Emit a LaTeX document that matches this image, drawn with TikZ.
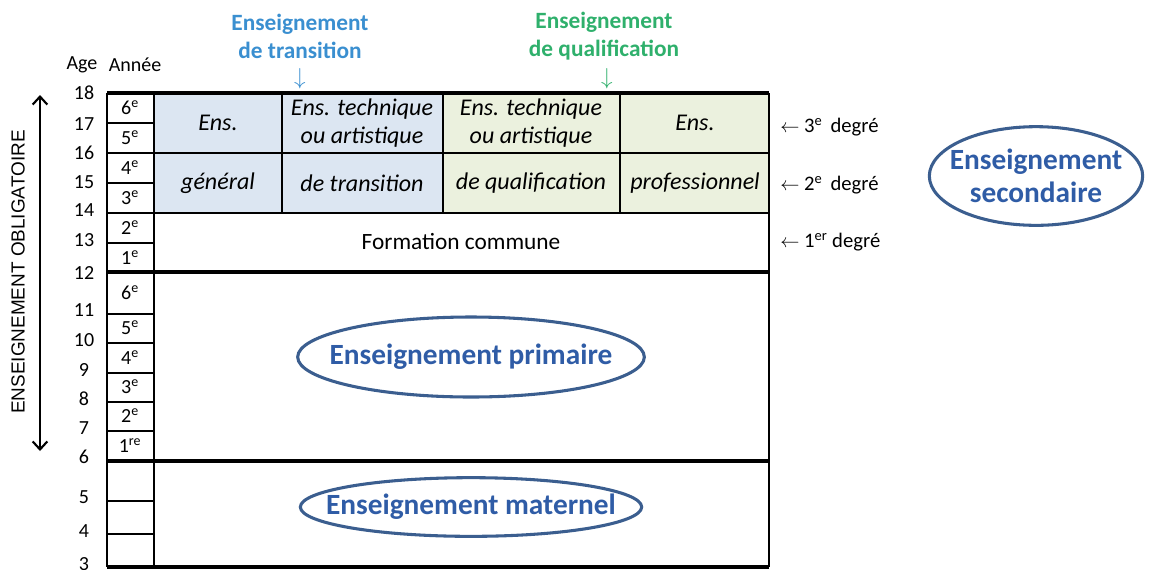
\documentclass[tikz,border=0pt]{standalone}
\usepackage{fontspec}
\setmainfont{Carlito}
\newfontfamily\arialfont{Liberation Sans}
\usetikzlibrary{positioning, shapes.geometric, arrows.meta, calc}

\definecolor{transfill}{HTML}{DCE6F2}
\definecolor{qualfill}{HTML}{EBF1DE}
\definecolor{transblue}{HTML}{3A8FD0}
\definecolor{qualgreen}{HTML}{2FB06C}
\definecolor{ovalline}{HTML}{3B5E8F}
\definecolor{ovaltext}{HTML}{2F5CA6}

\begin{document}
\begin{tikzpicture}[
  x=0.75pt, y=-0.75pt,
  cell/.style={font=\fontsize{18}{21}\selectfont\itshape, align=center, inner sep=0pt},
  plain/.style={font=\fontsize{15}{18}\selectfont, inner sep=0pt},
  year/.style={font=\fontsize{15}{17}\selectfont, inner sep=0pt},
  age/.style={font=\fontsize{15}{17}\selectfont, inner sep=0pt},
  degree/.style={font=\fontsize{15.5}{18}\selectfont, anchor=west, inner sep=0pt},
  heading/.style={font=\fontsize{17.5}{21}\selectfont\bfseries, align=center, inner sep=0pt},
  level/.style={inner sep=0pt, align=center, font=\fontsize{22}{25}\selectfont\bfseries, text=ovaltext},
  oval/.style={draw=ovalline, line width=2.3pt},
  thinline/.style={line width=0.9pt},
  heavyline/.style={line width=2.6pt},
  arrow/.style={line width=1.6pt, <->, >={Straight Barb[length=6pt, width=11pt]}}
]
\useasboundingbox (0,0) rectangle (1163,569);

% Coloured blocks of the upper degrees
\fill[transfill] (154,93) rectangle (443,213);
\fill[qualfill] (443,93) rectangle (769,213);

% Grid
\foreach \y in {123,153,183,243,314,343,373,402,431,501,534}
  \draw[thinline] (107,\y) -- (154,\y);
\draw[thinline] (154,153) -- (769,153);
\draw[thinline] (107,213) -- (769,213);
\foreach \x in {282,443,620}
  \draw[thinline] (\x,93) -- (\x,213);
\foreach \x in {107,154,769}
  \draw[thinline] (\x,93) -- (\x,567);
\foreach \y in {93,272,461,567}
  \draw[heavyline] (107,\y) -- (769,\y);

% Headers
\node[plain] (agehead) at (82,65) {Age};
\node[plain] (yearhead) at (135,65) {Année};
\node[heading, text=transblue] (transhead) at (300,36) {Enseignement\\de transition};
\node[heading, text=qualgreen] (qualhead) at (604,36) {Enseignement\\de qualification};
\node[inner sep=0pt, text=transblue, font=\LARGE] (transdown) at (300,79) {$\downarrow$};
\node[inner sep=0pt, text=qualgreen, font=\LARGE] (qualdown) at (607,79) {$\downarrow$};

% Ages
\foreach \a/\y in {18/93,17/124,16/153,15/182,14/210,13/240,12/273,11/310,10/340,9/370,8/399,7/428,6/457,5/497,4/531,3/564}
  \node[age] (age\a) at (84,\y) {\a};

% School years
\foreach \n/\d/\s/\y in {s6/6/e/108,s5/5/e/138,s4/4/e/168,s3/3/e/198,s2/2/e/228,s1/1/e/258,
                         p6/6/e/293,p5/5/e/328,p4/4/e/358,p3/3/e/387,p2/2/e/416,p1/1/re/446}
  \node[year] (\n) at (130,\y) {\d\textsuperscript{\s}};

% Secondary cells
\node[cell] (gen3) at (218,123) {Ens.};
\node[cell] (gen2) at (218,183) {général};
\node[cell] (tt3) at (362,123) {Ens. technique\\ou artistique};
\node[cell] (tt2) at (362,183) {de transition};
\node[cell] (tq3) at (531,123) {Ens. technique\\ou artistique};
\node[cell] (tq2) at (531,183) {de qualification};
\node[cell] (pro3) at (695,123) {Ens.};
\node[cell] (pro2) at (695,183) {professionnel};
\node[plain, font=\fontsize{17.5}{20}\selectfont] (commune) at (461,242) {Formation commune};

% Degrees
\node[degree] (deg3) at (780,127) {$\leftarrow$ 3\textsuperscript{e}\, degré};
\node[degree] (deg2) at (780,185) {$\leftarrow$ 2\textsuperscript{e}\, degré};
\node[degree] (deg1) at (780,242) {$\leftarrow$ 1\textsuperscript{er} degré};

% Levels
\node[level] (secondaire) at (1036,176) {Enseignement\\secondaire};
\draw[oval] (secondaire.center) ellipse [x radius=80pt, y radius=37pt];
\node[level] (primaire) at (471,357) {Enseignement primaire};
\draw[oval] (primaire.center) ellipse [x radius=130pt, y radius=30pt];
\node[level] (maternel) at (471,507) {Enseignement maternel};
\draw[oval] (maternel.center) ellipse [x radius=128pt, y radius=22pt];

% Compulsory schooling
\coordinate (oblig top) at (40,95);
\coordinate (oblig bottom) at (40,451);
\draw[arrow] (oblig top) -- (oblig bottom);
\node[rotate=90, inner sep=0pt, font=\arialfont\fontsize{14.2}{16}\selectfont] (oblig) at (18,272) {ENSEIGNEMENT OBLIGATOIRE};

\end{tikzpicture}
\end{document}
